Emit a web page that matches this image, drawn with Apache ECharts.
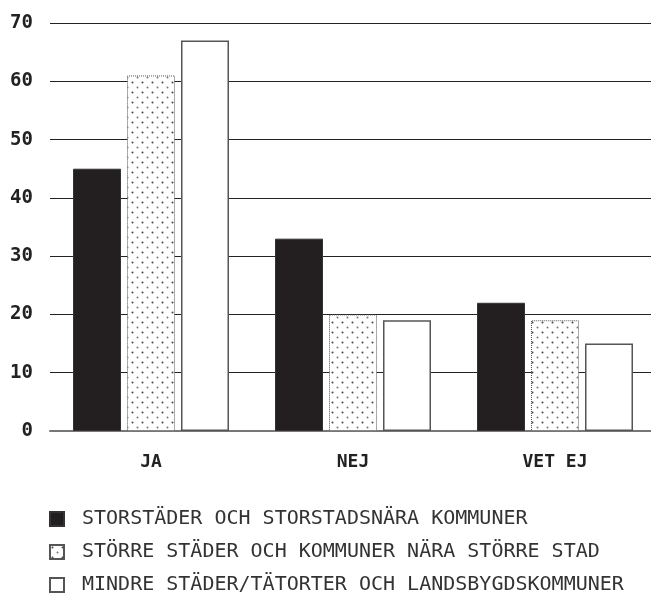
<!DOCTYPE html>
<html>
<head>
<meta charset="utf-8">
<script src="https://cdn.jsdelivr.net/npm/echarts@6/dist/echarts.min.js"></script>
<style>
  html, body { margin: 0; padding: 0; background: #fff; overflow: hidden; }
  #chart { width: 660px; height: 603px; }
</style>
</head>
<body>
<div id="chart"></div>
<script>
// values
const categories = ['JA', 'NEJ', 'VET EJ'];
const seriesNames = [
    'STORSTÄDER OCH STORSTADSNÄRA KOMMUNER',
    'STÖRRE STÄDER OCH KOMMUNER NÄRA STÖRRE STAD',
    'MINDRE STÄDER/TÄTORTER OCH LANDSBYGDSKOMMUNER'
];
const storstader = [45, 33, 22];
const storreStader = [61, 20, 19];
const mindreStader = [67, 19, 15];
const yTicks = [0, 10, 20, 30, 40, 50, 60, 70];

// dotted fill for the middle series
function dotPattern() {
    let c = document.createElement('canvas');
    c.width = 10;
    c.height = 10;
    let ctx = c.getContext('2d');
    ctx.fillStyle = '#fff';
    ctx.fillRect(0, 0, 10, 10);
    ctx.fillStyle = '#444';
    ctx.beginPath();
    ctx.arc(2.5, 2.5, 1, 0, Math.PI * 2);
    ctx.fill();
    ctx.fillStyle = '#777';
    ctx.beginPath();
    ctx.arc(7.5, 7.5, 1, 0, Math.PI * 2);
    ctx.fill();
    return c;
}

// chart div is a bit wider than the window so the last category can reach the edge
let chart = echarts.init(document.getElementById('chart'), null, { renderer: 'canvas' });
let font = '"DejaVu Sans Mono", monospace';

let option = {
    animation: false,
    grid: { left: 50, right: 4, top: 23, bottom: 172 },
    legend: {
        orient: 'vertical',
        left: 49,
        top: 509,
        padding: 0,
        icon: 'rect',
        itemWidth: 14,
        itemHeight: 14,
        itemGap: 13,
        data: seriesNames,
        textStyle: {
            fontFamily: font,
            fontSize: 20,
            color: '#333',
            lineHeight: 20,
            padding: [0, 0, 0, 13]
        }
    },
    xAxis: {
        type: 'category',
        data: categories,
        axisTick: { show: false },
        axisLine: { lineStyle: { color: '#777', width: 2 } },
        axisLabel: {
            margin: 22,
            fontFamily: font,
            fontSize: 18,
            fontWeight: 'bold',
            color: '#222'
        }
    },
    yAxis: {
        type: 'value',
        min: yTicks[0],
        max: yTicks[yTicks.length - 1],
        interval: 10,
        axisLine: { show: false },
        axisTick: { show: false },
        splitLine: { lineStyle: { color: '#222', width: 1 } },
        axisLabel: {
            margin: 17,
            fontFamily: font,
            fontSize: 19,
            fontWeight: 'bold',
            color: '#222'
        }
    },
    series: [
        {
            name: seriesNames[0],
            type: 'bar',
            data: storstader,
            barWidth: 48,
            barGap: '12.5%',
            itemStyle: { color: '#231f20', borderColor: '#333', borderWidth: 1 }
        },
        {
            name: seriesNames[1],
            type: 'bar',
            data: storreStader,
            barWidth: 48,
            barGap: '12.5%',
            itemStyle: {
                color: { image: dotPattern(), repeat: 'repeat' },
                borderColor: '#555',
                borderWidth: 1,
                borderType: 'dotted'
            }
        },
        {
            name: seriesNames[2],
            type: 'bar',
            data: mindreStader,
            barWidth: 48,
            barGap: '12.5%',
            itemStyle: { color: '#fff', borderColor: '#555', borderWidth: 1.5 }
        }
    ]
};
chart.setOption(option);
</script>
</body>
</html>
